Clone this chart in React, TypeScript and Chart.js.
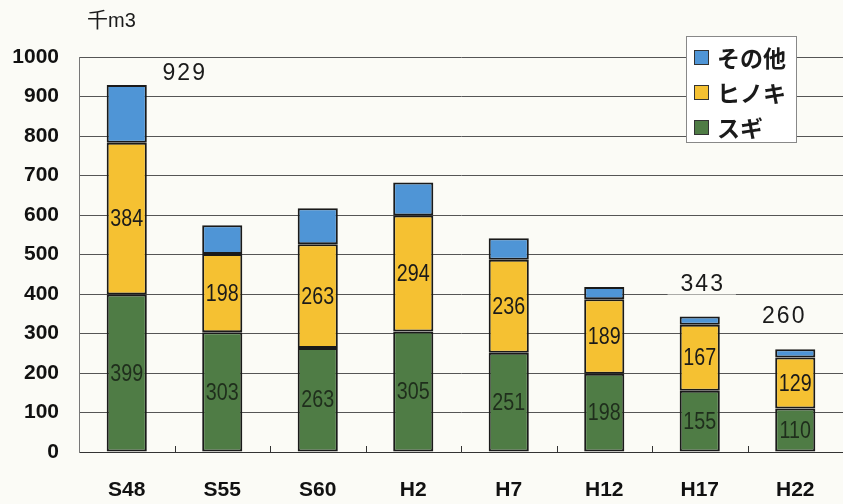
import React, { useEffect, useRef } from "react";
import { Chart, registerables } from "chart.js";

Chart.register(...registerables);

const categories = ["S48", "S55", "S60", "H2", "H7", "H12", "H17", "H22"];
const sugiValues = [399, 303, 263, 305, 251, 198, 155, 110];
const hinokiValues = [384, 198, 263, 294, 236, 189, 167, 129];
const otherValues = [146, 73, 91, 83, 54, 31, 21, 21];
const yTicks = [0, 100, 200, 300, 400, 500, 600, 700, 800, 900, 1000];
const seriesNames = ["スギ", "ヒノキ", "その他"];
const seriesColors = ["#4f7c45", "#f5c132", "#4f95d6"];
const totalLabelIndexes = [0, 6, 7];
const unitLabel = "千m3";

// layout offsets for total labels (pixels), per labelled bar
const totalLabelOffsets: [number, number][] = [
  [57, -12],
  [2, -33],
  [-12, -34],
];

const BG = "#fbfbf6";

const customPlugin = {
  id: "custom",
  beforeDraw(chart: any) {
    const ctx = chart.ctx;
    ctx.save();
    ctx.fillStyle = BG;
    ctx.fillRect(0, 0, chart.width, chart.height);
    ctx.restore();
  },
  afterDatasetsDraw(chart: any) {
    const ctx = chart.ctx;
    const area = chart.chartArea;
    const xScale = chart.scales.x;
    ctx.save();
    // small tick marks between categories
    ctx.strokeStyle = "#333";
    ctx.lineWidth = 1;
    for (let i = 1; i < categories.length; i++) {
      const xp = Math.round((xScale.getPixelForValue(i - 1) + xScale.getPixelForValue(i)) / 2) + 0.5;
      ctx.beginPath();
      ctx.moveTo(xp, area.bottom);
      ctx.lineTo(xp, area.bottom - 6);
      ctx.stroke();
    }
    // segment labels (slightly condensed)
    ctx.textAlign = "center";
    ctx.textBaseline = "middle";
    ctx.font = "24px 'Liberation Sans', Arial, sans-serif";
    const sx = 0.82;
    [0, 1].forEach((di) => {
      const meta = chart.getDatasetMeta(di);
      meta.data.forEach((el: any, i: number) => {
        const v = chart.data.datasets[di].data[i];
        ctx.save();
        ctx.translate(el.x, (el.y + el.base) / 2 + 1);
        ctx.scale(sx, 1);
        ctx.fillStyle = di === 0 ? "#1f2e1c" : "#1a1a1a";
        ctx.fillText(String(v), 0, 0);
        ctx.restore();
      });
    });
    // total labels
    const topMeta = chart.getDatasetMeta(2);
    ctx.font = "23px 'Liberation Sans', Arial, sans-serif";
    (ctx as any).letterSpacing = "2px";
    totalLabelIndexes.forEach((idx, k) => {
      const total = sugiValues[idx] + hinokiValues[idx] + otherValues[idx];
      const el = topMeta.data[idx];
      const [dx, dy] = totalLabelOffsets[k];
      const tx = el.x + dx;
      const ty = el.y + dy;
      const text = String(total);
      const w = ctx.measureText(text).width;
      ctx.fillStyle = BG;
      ctx.fillRect(tx - w / 2 - 12, ty - 11, w + 24, 22);
      ctx.fillStyle = "#1a1a1a";
      ctx.fillText(text, tx + 1, ty + 1);
    });
    (ctx as any).letterSpacing = "0px";
    ctx.restore();
  },
  afterDraw(chart: any) {
    const ctx = chart.ctx;
    ctx.save();
    // unit label
    ctx.textBaseline = "middle";
    ctx.textAlign = "left";
    ctx.fillStyle = "#1a1a1a";
    ctx.font = "21px 'Noto Sans CJK JP', sans-serif";
    ctx.fillText(unitLabel.slice(0, 1), 87, 19);
    const w0 = ctx.measureText(unitLabel.slice(0, 1)).width;
    ctx.font = "20px 'Liberation Sans', Arial, sans-serif";
    ctx.fillText(unitLabel.slice(1), 87 + w0, 21);

    // legend box
    const bx = 686.5, by = 36.5, bw = 110, bh = 106;
    ctx.fillStyle = "#ffffff";
    ctx.fillRect(bx, by, bw, bh);
    ctx.strokeStyle = "#888";
    ctx.lineWidth = 1;
    ctx.strokeRect(bx, by, bw, bh);
    const rows = [2, 1, 0];
    const rowY = [57, 92, 127];
    ctx.font = "bold 23px 'Noto Sans CJK JP', sans-serif";
    rows.forEach((si, r) => {
      const y = rowY[r];
      ctx.fillStyle = seriesColors[si];
      ctx.fillRect(694, y - 7, 15, 15);
      ctx.strokeStyle = "#333";
      ctx.lineWidth = 1;
      ctx.strokeRect(694.5, y - 6.5, 14, 14);
      ctx.fillStyle = "#1a1a1a";
      ctx.fillText(seriesNames[si], 717, y + 1);
    });
    ctx.restore();
  },
};

export default function App() {
  const ref = useRef<HTMLCanvasElement | null>(null);
  useEffect(() => {
    if (!ref.current) return;
    const chart = new Chart(ref.current, {
      type: "bar",
      data: {
        labels: categories,
        datasets: [
          { label: seriesNames[0], data: sugiValues, backgroundColor: seriesColors[0] },
          { label: seriesNames[1], data: hinokiValues, backgroundColor: seriesColors[1] },
          { label: seriesNames[2], data: otherValues, backgroundColor: seriesColors[2] },
        ].map((d) => ({
          ...d,
          borderColor: "#1a1a1a",
          borderWidth: 2,
          borderSkipped: false,
          barPercentage: 0.42,
          categoryPercentage: 1,
        })),
      },
      options: {
        responsive: false,
        animation: false,
        layout: { padding: { top: 57, right: 0, left: 0, bottom: 0 } },
        plugins: { legend: { display: false }, tooltip: { enabled: false } },
        scales: {
          x: {
            stacked: true,
            grid: { display: false, drawTicks: false },
            border: { display: true, color: "#333", width: 1 },
            ticks: {
              padding: 26,
              color: "#111",
              font: { family: "'Liberation Sans', Arial, sans-serif", size: 21, weight: "bold" },
            },
            afterFit(scale: any) {
              scale.height = 52;
            },
          },
          y: {
            stacked: true,
            min: 0,
            max: 1000,
            afterBuildTicks(scale: any) {
              scale.ticks = yTicks.map((v) => ({ value: v }));
            },
            grid: { color: "#555", lineWidth: 1, drawTicks: false },
            border: { display: true, color: "#777", width: 1 },
            ticks: {
              padding: 20,
              color: "#111",
              callback: (v: any) => String(v),
              font: { family: "'Liberation Sans', Arial, sans-serif", size: 21, weight: "bold" },
            },
            afterFit(scale: any) {
              scale.width = 79;
            },
          },
        },
      },
      plugins: [customPlugin],
    } as any);
    return () => chart.destroy();
  }, []);
  return (
    <div style={{ position: "absolute", left: 0, top: 0, width: 843, height: 504 }}>
      <canvas ref={ref} width={843} height={504} style={{ display: "block" }} />
    </div>
  );
}
